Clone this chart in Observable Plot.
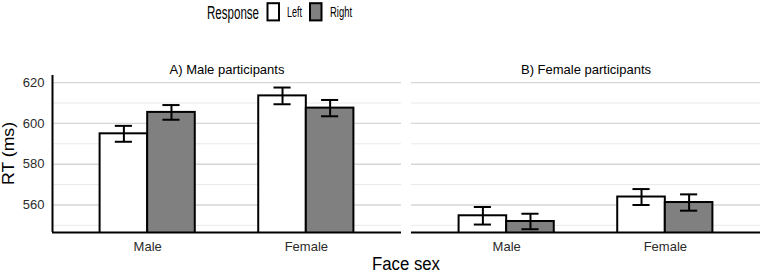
<!DOCTYPE html>
<html>
<head>
<meta charset="utf-8">
<script src="https://cdn.jsdelivr.net/npm/d3@7"></script>
<script src="https://cdn.jsdelivr.net/npm/@observablehq/plot@0.6"></script>
<style>
  html, body { margin: 0; padding: 0; background: #fff; }
  #wrap { position: relative; width: 762px; height: 272px; overflow: hidden; }
  #wrap svg { position: absolute; left: 0; top: 0; }
</style>
</head>
<body>
<div id="wrap"></div>
<script>
// ---- data ----
const panels = ["A) Male participants", "B) Female participants"];
const faceSex = ["Male", "Female"];
const responses = ["Left", "Right"];
const responseColors = ["#ffffff", "#808080"];
// order: Male-Left, Male-Right, Female-Left, Female-Right
const maleParticipantsRT = [594.9, 605.4, 613.5, 607.5];
const maleParticipantsSE = [3.9, 3.6, 4.1, 4.0];
const femaleParticipantsRT = [554.7, 551.9, 563.9, 561.2];
const femaleParticipantsSE = [4.3, 3.8, 3.9, 4.0];
const yTicks = [560, 580, 600, 620];
const yMinorTicks = [550, 570, 590, 610];
const yDomain = [546.5, 623.5];
const xDomain = [0.4, 2.6];

// ---- build table ----
const rows = [];
[[maleParticipantsRT, maleParticipantsSE], [femaleParticipantsRT, femaleParticipantsSE]].forEach(([rt, se], pi) => {
  faceSex.forEach((f, fi) => {
    responses.forEach((r, ri) => {
      const k = fi * 2 + ri;
      const x1 = fi + 1 - 0.3 + ri * 0.3;
      rows.push({panel: panels[pi], face: f, response: r, rt: rt[k], se: se[k],
                 x1, x2: x1 + 0.3, xc: x1 + 0.15});
    });
  });
});

const font = "'Liberation Sans', Arial, Helvetica, sans-serif";

const chart = Plot.plot({
  width: 762,
  height: 272,
  marginLeft: 52,
  marginRight: 1,
  marginTop: 75,
  marginBottom: 40,
  style: {fontFamily: font, background: "transparent", overflow: "visible"},
  fx: {domain: panels, paddingInner: 0.0265, paddingOuter: 0, axis: null},
  x: {type: "linear", domain: xDomain},
  y: {domain: yDomain},
  color: {domain: responses, range: responseColors},
  marks: [
    Plot.ruleY(yMinorTicks, {stroke: "#e9e9e9", strokeWidth: 1}),
    Plot.ruleY(yTicks, {stroke: "#d6d6d6", strokeWidth: 1.4}),
    Plot.rectY(rows, {fx: "panel", x1: "x1", x2: "x2", y: "rt", fill: "response",
      stroke: "black", strokeWidth: 2, clip: true}),
    Plot.ruleX(rows, {fx: "panel", x: "xc", y1: d => d.rt - d.se, y2: d => d.rt + d.se,
      stroke: "black", strokeWidth: 2}),
    Plot.ruleY(rows, {fx: "panel", y: d => d.rt - d.se, x1: d => d.xc - 0.054, x2: d => d.xc + 0.054,
      stroke: "black", strokeWidth: 2}),
    Plot.ruleY(rows, {fx: "panel", y: d => d.rt + d.se, x1: d => d.xc - 0.054, x2: d => d.xc + 0.054,
      stroke: "black", strokeWidth: 2}),
    Plot.ruleY([yDomain[0]], {stroke: "black", strokeWidth: 2}),
    Plot.ruleX([{p: panels[0], x: xDomain[0]}], {fx: "p", x: "x", stroke: "black", strokeWidth: 2}),
    Plot.axisY({ticks: yTicks, tickSize: 0, tickPadding: 8, fontSize: 13, fill: "#2b2b2b", label: null}),
    Plot.axisX({ticks: [1, 2], tickFormat: d => faceSex[d - 1], tickSize: 0, tickPadding: 9,
      fontSize: 13, fill: "#2b2b2b", label: null}),
    Plot.text(panels, {fx: d => d, text: d => d, frameAnchor: "top", dy: -11, fontSize: 13, fill: "black"})
  ]
});

const wrap = document.getElementById("wrap");
wrap.appendChild(chart);

// ---- overlay: legend and axis titles ----
const ov = d3.select(wrap).append("svg")
  .attr("width", 762).attr("height", 272)
  .style("font-family", font)
  .style("pointer-events", "none");

ov.append("text").attr("x", 207).attr("y", 19).attr("font-size", 18)
  .attr("textLength", 52).attr("lengthAdjust", "spacingAndGlyphs").text("Response");

const legendBoxX = [267.5, 310];
const legendLabelX = [287, 330];
const legendLabelW = [15, 22];
responses.forEach((r, i) => {
  ov.append("rect").attr("x", legendBoxX[i]).attr("y", 3.2).attr("width", 11.5).attr("height", 17.2)
    .attr("fill", responseColors[i]).attr("stroke", "black").attr("stroke-width", 2);
  ov.append("text").attr("x", legendLabelX[i]).attr("y", 17).attr("font-size", 14)
    .attr("textLength", legendLabelW[i]).attr("lengthAdjust", "spacingAndGlyphs").text(r);
});

ov.append("text").attr("x", 406).attr("y", 269.5).attr("font-size", 18)
  .attr("text-anchor", "middle").attr("textLength", 68).attr("lengthAdjust", "spacingAndGlyphs")
  .text("Face sex");

ov.append("text").attr("transform", "translate(14,153.5) rotate(-90)").attr("font-size", 17)
  .attr("text-anchor", "middle").attr("textLength", 63).attr("lengthAdjust", "spacingAndGlyphs")
  .text("RT (ms)");
</script>
</body>
</html>
